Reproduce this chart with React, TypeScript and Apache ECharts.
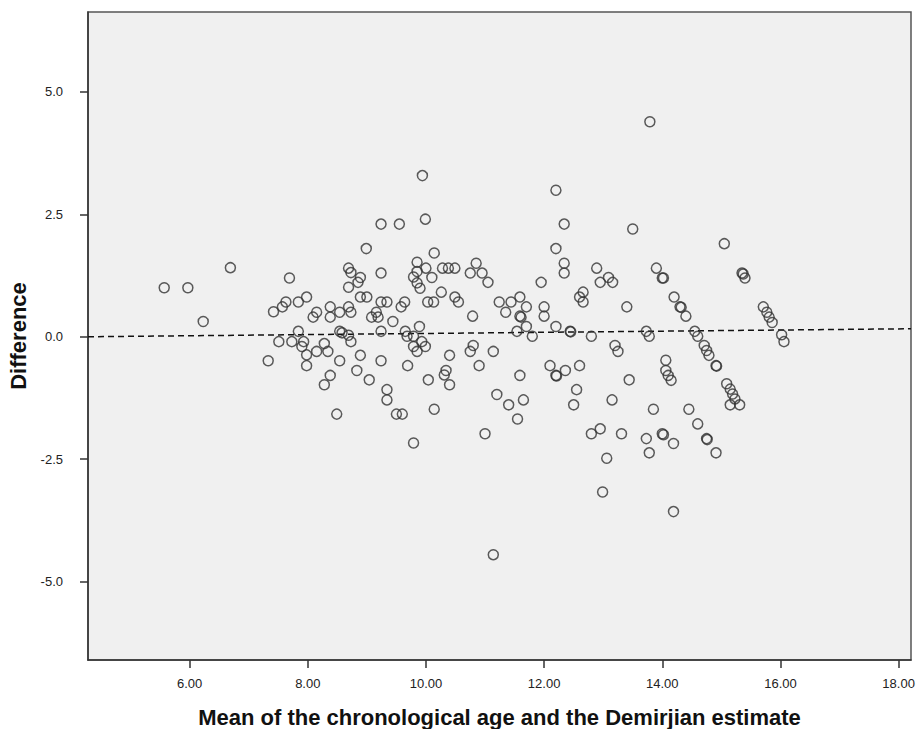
import React, { useEffect, useRef } from "react";
import * as echarts from "echarts";

// Mean of the chronological age and the Demirjian estimate
const meanAge: number[] = [
  5.57, 5.97, 6.69, 6.23, 7.42, 7.57, 7.51, 7.33, 7.69, 7.63,
  7.84, 7.98, 7.84, 7.73, 7.93, 7.90, 7.98, 7.98, 8.28, 8.15,
  8.34, 8.15, 8.09, 8.38, 8.38, 8.54, 8.69, 8.73, 8.54, 8.58,
  8.69, 8.73, 8.54, 8.89, 8.83, 8.38, 8.28, 9.04, 8.49, 8.69,
  8.73, 8.89, 8.85, 8.69, 8.99, 8.89, 9.00, 9.24, 9.55, 9.24,
  9.24, 9.34, 9.64, 9.58, 9.16, 9.08, 9.19, 9.44, 9.24, 9.24,
  9.34, 9.34, 9.50, 9.60, 9.79, 9.65, 9.68, 9.89, 9.79, 9.93,
  9.79, 9.99, 9.85, 9.69, 10.04, 10.14, 9.94, 9.99, 10.14, 9.85,
  10.00, 9.85, 9.79, 10.10, 9.85, 9.90, 10.03, 10.13, 10.26, 10.28,
  10.38, 10.49, 10.49, 10.55, 10.79, 10.85, 10.75, 10.95, 11.05, 10.40,
  10.34, 10.31, 10.40, 10.80, 10.75, 11.14, 10.90, 11.00, 11.20, 11.40,
  11.65, 11.55, 11.59, 11.14, 11.24, 11.44, 11.59, 11.35, 11.70, 11.59,
  11.61, 11.70, 11.54, 11.80, 12.00, 12.00, 11.95, 12.20, 12.34, 12.20,
  12.34, 12.34, 12.20, 12.44, 12.45, 12.80, 12.66, 12.60, 12.66, 12.89,
  12.95, 13.09, 13.16, 13.20, 13.25, 12.10, 12.20, 12.21, 12.36, 12.60,
  12.55, 12.50, 13.15, 12.80, 12.95, 13.31, 13.73, 13.78, 13.06, 12.99,
  13.50, 15.05, 13.90, 14.00, 14.02, 15.35, 15.37, 15.40, 14.20, 14.30,
  14.32, 14.40, 13.40, 13.73, 13.78, 14.55, 14.60, 14.71, 14.75, 14.79,
  14.91, 14.92, 15.71, 15.77, 15.81, 15.86, 16.02, 16.06, 14.06, 14.06,
  14.10, 14.15, 13.44, 13.85, 14.45, 14.60, 15.09, 15.15, 15.19, 15.23,
  15.31, 15.15, 14.00, 14.02, 14.19, 14.75, 14.76, 14.91, 14.19, 13.79,
];

// Difference (chronological age - Demirjian estimate)
const difference: number[] = [
  1.00, 1.00, 1.41, 0.31, 0.51, 0.61, -0.10, -0.49, 1.20, 0.71,
  0.71, 0.81, 0.11, -0.10, -0.10, -0.20, -0.37, -0.59, -0.14, -0.30,
  -0.30, 0.50, 0.40, 0.61, 0.40, 0.50, 0.61, 0.50, 0.11, 0.08,
  0.03, -0.10, -0.49, -0.38, -0.69, -0.79, -0.98, -0.88, -1.58, 1.40,
  1.31, 1.21, 1.11, 1.01, 1.80, 0.81, 0.81, 2.30, 2.30, 1.30,
  0.71, 0.71, 0.71, 0.61, 0.50, 0.40, 0.40, 0.31, 0.11, -0.49,
  -1.08, -1.29, -1.58, -1.58, -2.17, 0.11, 0.01, 0.21, 0.01, -0.10,
  -0.20, -0.20, -0.30, -0.59, -0.88, -1.48, 3.29, 2.40, 1.71, 1.52,
  1.40, 1.33, 1.22, 1.21, 1.10, 0.99, 0.71, 0.71, 0.91, 1.40,
  1.40, 1.40, 0.81, 0.71, 0.42, 1.50, 1.30, 1.30, 1.11, -0.38,
  -0.69, -0.78, -0.98, -0.18, -0.30, -0.30, -0.59, -1.98, -1.18, -1.39,
  -1.29, -1.68, -0.79, -4.45, 0.71, 0.71, 0.81, 0.50, 0.61, 0.42,
  0.40, 0.21, 0.11, 0.01, 0.61, 0.42, 1.11, 2.99, 2.30, 1.80,
  1.50, 1.30, 0.21, 0.11, 0.10, 0.01, 0.91, 0.81, 0.71, 1.40,
  1.11, 1.21, 1.11, -0.18, -0.30, -0.59, -0.79, -0.80, -0.69, -0.59,
  -1.08, -1.39, -1.29, -1.98, -1.88, -1.98, -2.08, -2.37, -2.48, -3.17,
  2.20, 1.90, 1.40, 1.20, 1.20, 1.30, 1.28, 1.20, 0.81, 0.61,
  0.60, 0.42, 0.61, 0.11, 0.01, 0.11, 0.01, -0.18, -0.28, -0.38,
  -0.59, -0.60, 0.61, 0.50, 0.40, 0.29, 0.04, -0.10, -0.48, -0.69,
  -0.79, -0.89, -0.88, -1.48, -1.48, -1.78, -0.96, -1.07, -1.17, -1.27,
  -1.39, -1.39, -1.98, -2.00, -2.18, -2.08, -2.10, -2.37, -3.57, 4.39,
];

// Dashed reference (fit) line end points
const fitLineX: number[] = [4.28, 18.21];
const fitLineY: number[] = [0.0, 0.163];

const xTickValues: number[] = [6, 8, 10, 12, 14, 16, 18];
const yTickValues: number[] = [-5, -2.5, 0, 2.5, 5];

const xRange: number[] = [4.28, 18.21];
const yRange: number[] = [-6.6, 6.63];

const xTitle = "Mean of the chronological age and the Demirjian estimate";
const yTitle = "Difference";

export default function App() {
  const ref = useRef<HTMLDivElement>(null);

  useEffect(() => {
    if (!ref.current) return;
    document.body.style.margin = "0";
    const chart = echarts.init(ref.current, undefined, { renderer: "svg" });
    const points = meanAge.map((x, i) => [x, difference[i]]);
    const fitLine = fitLineX.map((x, i) => [x, fitLineY[i]]);
    const font = "'Liberation Sans', Arial, sans-serif";

    chart.setOption({
      animation: false,
      backgroundColor: "#ffffff",
      grid: {
        left: 88,
        right: 9,
        top: 12,
        bottom: 69,
        containLabel: false,
        outerBoundsMode: "none",
        show: true,
        backgroundColor: "#f0f0f0",
        borderColor: "#555555",
        borderWidth: 1.5,
      },
      xAxis: {
        type: "value",
        min: xRange[0],
        max: xRange[1],
        name: xTitle,
        nameLocation: "middle",
        nameGap: 46,
        nameTextStyle: {
          fontFamily: font,
          fontWeight: "bold",
          fontSize: 22,
          color: "#111111",
        },
        axisLine: { show: true, onZero: false, lineStyle: { color: "#333333", width: 1.5 } },
        axisTick: {
          show: true,
          length: 8,
          inside: false,
          customValues: xTickValues,
          lineStyle: { color: "#333333", width: 1.5 },
        },
        axisLabel: {
          show: true,
          customValues: xTickValues,
          formatter: (v: number) => v.toFixed(2),
          fontFamily: font,
          fontSize: 13,
          color: "#222222",
          margin: 17,
        },
        splitLine: { show: false },
      },
      yAxis: {
        type: "value",
        min: yRange[0],
        max: yRange[1],
        name: yTitle,
        nameLocation: "middle",
        nameGap: 52,
        nameRotate: 90,
        nameTextStyle: {
          fontFamily: font,
          fontWeight: "bold",
          fontSize: 22,
          color: "#111111",
        },
        axisLine: { show: true, onZero: false, lineStyle: { color: "#333333", width: 1.5 } },
        axisTick: {
          show: true,
          length: 8,
          inside: false,
          customValues: yTickValues,
          lineStyle: { color: "#333333", width: 1.5 },
        },
        axisLabel: {
          show: true,
          customValues: yTickValues,
          formatter: (v: number) => v.toFixed(1),
          fontFamily: font,
          fontSize: 13,
          color: "#222222",
          margin: 25,
        },
        splitLine: { show: false },
      },
      series: [
        {
          type: "line",
          data: fitLine,
          symbol: "none",
          silent: true,
          lineStyle: { color: "#111111", width: 1.5, type: [6, 4] },
          z: 1,
        },
        {
          type: "scatter",
          data: points,
          symbol: "circle",
          symbolSize: 10,
          itemStyle: {
            color: "rgba(0,0,0,0)",
            borderColor: "#333333",
            borderWidth: 1.5,
          },
          z: 2,
        },
      ],
    });

    return () => {
      chart.dispose();
    };
  }, []);

  return <div ref={ref} style={{ width: 920, height: 729 }} />;
}
